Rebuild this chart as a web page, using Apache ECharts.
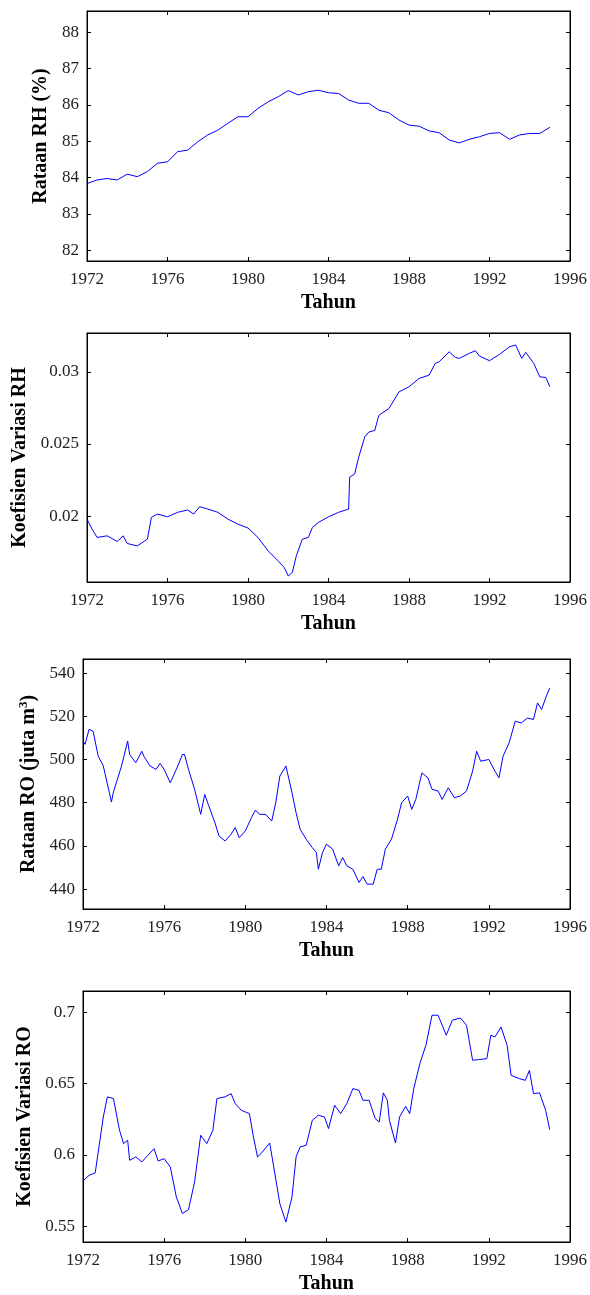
<!DOCTYPE html>
<html><head><meta charset="utf-8">
<script src="https://cdn.jsdelivr.net/npm/echarts@6/dist/echarts.min.js"></script>
<style>html,body{margin:0;padding:0;background:#fff}#c{width:590px;height:1295px}</style>
</head><body><div id="c"></div>
<script>
// ---- data ----
const xTicks = [1972, 1976, 1980, 1984, 1988, 1992, 1996];

const rhMeanYears = [1972.0,1972.5,1973.0,1973.5,1974.0,1974.5,1975.0,1975.5,1976.0,1976.5,1977.0,1977.5,1978.0,1978.5,1979.0,1979.5,1980.0,1980.5,1981.0,1981.5,1982.0,1982.5,1983.0,1983.5,1984.0,1984.5,1985.0,1985.5,1986.0,1986.5,1987.0,1987.5,1988.0,1988.5,1989.0,1989.5,1990.0,1990.5,1991.0,1991.5,1992.0,1992.5,1993.0,1993.5,1994.0,1994.5,1995.0];
const rhMean = [83.83,83.93,83.97,83.93,84.09,84.02,84.16,84.39,84.43,84.71,84.75,84.98,85.17,85.30,85.49,85.67,85.67,85.90,86.08,86.22,86.39,86.27,86.36,86.40,86.33,86.31,86.13,86.04,86.04,85.85,85.78,85.58,85.44,85.41,85.28,85.23,85.03,84.95,85.05,85.12,85.21,85.23,85.05,85.17,85.21,85.21,85.38];

const rhCvYears = [1972.0,1972.25,1972.5,1973.0,1973.5,1973.8,1974.0,1974.5,1975.0,1975.2,1975.5,1976.0,1976.5,1977.0,1977.3,1977.6,1978.0,1978.5,1979.0,1979.5,1980.0,1980.5,1981.0,1981.5,1981.8,1982.0,1982.2,1982.4,1982.7,1983.0,1983.2,1983.5,1984.0,1984.5,1985.0,1985.05,1985.3,1985.5,1985.8,1986.0,1986.3,1986.5,1987.0,1987.5,1988.0,1988.5,1989.0,1989.3,1989.5,1990.0,1990.3,1990.5,1991.0,1991.3,1991.5,1992.0,1992.5,1993.0,1993.3,1993.6,1993.8,1994.2,1994.5,1994.8,1995.0];
const rhCv = [0.01979,0.01910,0.01852,0.01863,0.01824,0.01863,0.01810,0.01793,0.01840,0.01991,0.02014,0.01995,0.02026,0.02042,0.02014,0.02065,0.02049,0.02026,0.01979,0.01944,0.01917,0.01851,0.01759,0.01689,0.01643,0.01585,0.01608,0.01724,0.01840,0.01852,0.01921,0.01956,0.01995,0.02026,0.02049,0.02269,0.02292,0.02408,0.02548,0.02582,0.02594,0.02698,0.02745,0.02861,0.02896,0.02954,0.02977,0.03058,0.03070,0.03139,0.03100,0.03093,0.03128,0.03146,0.03109,0.03077,0.03121,0.03174,0.03186,0.03093,0.03135,0.03058,0.02965,0.02961,0.02896];

const roMeanYears = [1972.0,1972.1,1972.3,1972.5,1972.75,1973.0,1973.3,1973.4,1973.5,1973.9,1974.2,1974.3,1974.6,1974.9,1975.0,1975.3,1975.6,1975.8,1976.0,1976.3,1976.6,1976.9,1977.0,1977.2,1977.5,1977.8,1978.0,1978.2,1978.5,1978.7,1979.0,1979.3,1979.5,1979.7,1980.0,1980.3,1980.5,1980.7,1981.0,1981.3,1981.5,1981.7,1982.0,1982.3,1982.5,1982.7,1983.0,1983.3,1983.5,1983.6,1983.8,1984.0,1984.3,1984.6,1984.8,1985.0,1985.3,1985.6,1985.8,1986.0,1986.3,1986.5,1986.7,1986.9,1987.2,1987.5,1987.7,1988.0,1988.2,1988.4,1988.7,1989.0,1989.2,1989.5,1989.7,1990.0,1990.3,1990.6,1990.9,1991.2,1991.4,1991.6,1992.0,1992.3,1992.5,1992.7,1993.0,1993.3,1993.6,1993.9,1994.2,1994.4,1994.6,1994.8,1995.0];
const roMean = [508.5,507,514,513,501.5,497,484.6,480.3,485,497,508.5,502.3,498.5,503.8,501.5,497,495.4,498.2,495.4,489.2,495.4,502.3,502.3,495.4,486.2,474.6,483.8,478.5,470.8,464.6,462.3,465.4,468.5,463.8,466.9,473.1,476.6,474.6,474.6,471.5,480,492.3,497,484.6,475.4,467.7,463.1,459.2,456.9,449.2,456.9,460.8,458.5,450.8,454.6,450.8,449.2,443.1,445.8,442.3,442.3,449.2,449.2,458.5,463.1,472.3,480,483.1,476.9,481.5,493.8,491.5,486.2,485.4,481.5,486.9,482.3,483.1,485.4,494.6,503.8,499.2,500,494.6,491.5,501.5,507.7,517.7,516.9,519.2,518.5,526.2,523.1,528.5,533];

const roCvYears = [1972.0,1972.3,1972.6,1972.8,1973.0,1973.2,1973.5,1973.8,1974.0,1974.2,1974.3,1974.6,1974.9,1975.2,1975.5,1975.7,1976.0,1976.3,1976.6,1976.9,1977.2,1977.5,1977.8,1978.1,1978.4,1978.6,1979.0,1979.3,1979.5,1979.8,1980.2,1980.4,1980.6,1980.8,1981.2,1981.4,1981.7,1982.0,1982.3,1982.5,1982.7,1983.0,1983.3,1983.6,1983.9,1984.1,1984.4,1984.7,1985.0,1985.3,1985.6,1985.8,1986.1,1986.4,1986.6,1986.8,1987.0,1987.1,1987.4,1987.6,1987.9,1988.1,1988.3,1988.6,1988.9,1989.2,1989.5,1989.7,1989.9,1990.2,1990.6,1990.9,1991.2,1991.5,1991.9,1992.1,1992.3,1992.6,1992.9,1993.1,1993.5,1993.8,1994.0,1994.2,1994.5,1994.8,1995.0];
const roCv = [0.5818,0.5857,0.5874,0.6068,0.6266,0.6407,0.6395,0.6173,0.6079,0.6103,0.5963,0.5986,0.5951,0.5998,0.6044,0.5958,0.5974,0.5916,0.5706,0.5589,0.5617,0.5811,0.6138,0.6079,0.6173,0.6395,0.6407,0.6430,0.6360,0.6313,0.6290,0.6126,0.5986,0.6014,0.6084,0.5916,0.5659,0.5530,0.5706,0.5986,0.6056,0.6068,0.6243,0.6278,0.6266,0.6185,0.6348,0.6290,0.6360,0.6465,0.6453,0.6383,0.6383,0.6255,0.6231,0.6435,0.6383,0.6243,0.6084,0.6266,0.6341,0.6290,0.6465,0.6640,0.6769,0.6979,0.6979,0.6909,0.6839,0.6944,0.6960,0.6909,0.6664,0.6668,0.6675,0.6839,0.6827,0.6897,0.6769,0.6558,0.6535,0.6523,0.6593,0.6430,0.6435,0.6313,0.6178];

// ---- chart ----
const FONT = '"Liberation Serif","DejaVu Serif",serif';
const panels = [
  {years: rhMeanYears, vals: rhMean, name: 'Rataan RH (%)', min: 81.7, max: 88.58, ticks: [82,83,84,85,86,87,88], dec: 0, left: 87, top: 11, width: 484, height: 250, nameGap: 36},
  {years: rhCvYears, vals: rhCv, name: 'Koefisien Variasi RH', min: 0.01543, max: 0.03269, ticks: [0.02,0.025,0.03], dec: 3, left: 87, top: 333, width: 484, height: 249, nameGap: 54},
  {years: roMeanYears, vals: roMean, name: 'Rataan RO (juta m{sup|3})', min: 430.8, max: 546.5, ticks: [440,460,480,500,520,540], dec: 0, left: 83, top: 659, width: 489, height: 250, nameGap: 41},
  {years: roCvYears, vals: roCv, name: 'Koefisien Variasi RO', min: 0.539, max: 0.7149, ticks: [0.55,0.6,0.65,0.7], dec: 2, left: 83, top: 991, width: 489, height: 251, nameGap: 47}
];

const grids = [], xAxes = [], yAxes = [], series = [];
panels.forEach((p, i) => {
  grids.push({left: p.left, top: p.top, width: p.width, height: p.height, show: true, borderColor: '#000', borderWidth: 1, backgroundColor: '#fff'});
  const tickStyle = {show: true, inside: true, length: 4, lineStyle: {color: '#000', width: 1}};
  const xBase = {type: 'value', gridIndex: i, min: 1972, max: 1996, interval: 4, splitLine: {show: false},
    axisLine: {show: true, lineStyle: {color: '#000', width: 1}}, axisTick: tickStyle};
  xAxes.push(Object.assign({}, xBase, {position: 'bottom',
    axisLabel: {show: true, color: '#222', fontFamily: FONT, fontSize: 17, margin: 10, formatter: v => String(v)},
    name: 'Tahun', nameLocation: 'middle', nameGap: 32,
    nameTextStyle: {fontFamily: FONT, fontSize: 20, fontWeight: 'bold', color: '#000'}}));
  xAxes.push(Object.assign({}, xBase, {position: 'top', axisLabel: {show: false}}));
  const yBase = {type: 'value', gridIndex: i, min: p.min, max: p.max, splitLine: {show: false},
    axisLine: {show: true, lineStyle: {color: '#000', width: 1}},
    axisTick: Object.assign({}, tickStyle, {customValues: p.ticks}),
    axisLabel: {customValues: p.ticks}};
  yAxes.push(Object.assign({}, yBase, {position: 'left',
    axisLabel: {customValues: p.ticks, show: true, color: '#222', fontFamily: FONT, fontSize: 17, margin: 8,
      formatter: v => p.dec === 0 ? String(Math.round(v)) : String(+v.toFixed(p.dec))},
    name: p.name, nameLocation: 'middle', nameGap: p.nameGap,
    nameTextStyle: {fontFamily: FONT, fontSize: 20, fontWeight: 'bold', color: '#000',
      rich: {sup: {fontFamily: FONT, fontSize: 13, fontWeight: 'bold', color: '#000', verticalAlign: 'top', padding: [0,0,10,0]}}}}));
  yAxes.push(Object.assign({}, yBase, {position: 'right', axisLabel: {show: false}}));
  series.push({type: 'line', xAxisIndex: 2*i, yAxisIndex: 2*i, showSymbol: false, symbol: 'none',
    lineStyle: {color: '#0000ff', width: 1}, itemStyle: {color: '#0000ff'},
    data: p.years.map((y, k) => [y, p.vals[k]]), animation: false});
});

const chart = echarts.init(document.getElementById('c'), null, {renderer: 'canvas'});
chart.setOption({animation: false, backgroundColor: '#fff', grid: grids, xAxis: xAxes, yAxis: yAxes, series: series});
</script>
</body></html>
